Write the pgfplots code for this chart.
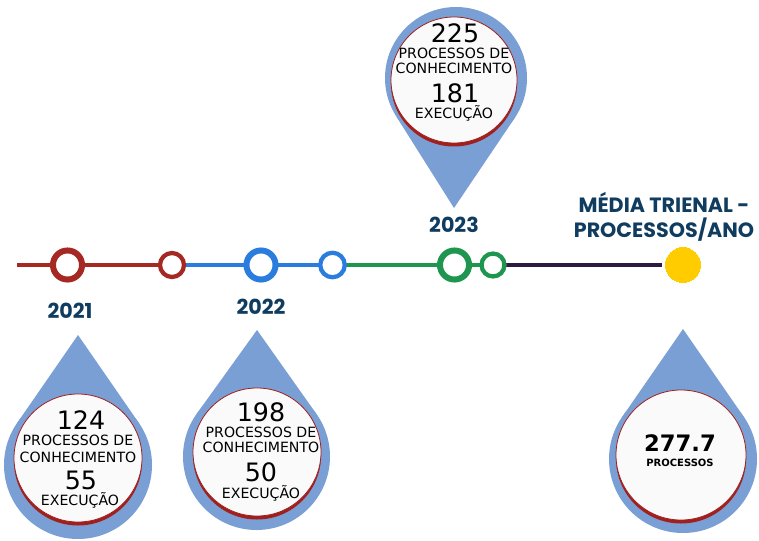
\documentclass[border=0pt]{standalone}
\usepackage{pgfplots}
\pgfplotsset{compat=1.18}
\usepackage{fontspec}
\setmainfont{DejaVu Sans}
\newfontfamily\pop{Poppins}
\newfontfamily\dv{DejaVu Sans}
\definecolor{tred}{RGB}{165,40,35}
\definecolor{tblue}{RGB}{42,125,220}
\definecolor{tgreen}{RGB}{30,150,80}
\definecolor{tdark}{RGB}{45,25,65}
\definecolor{tyellow}{RGB}{255,204,0}
\definecolor{navy}{RGB}{15,60,95}
\definecolor{drop}{RGB}{122,159,212}
\definecolor{rim}{RGB}{160,32,30}
\newcommand{\dropdown}[7]{% center x,y, r, tip x,y, tangent dx, tangent dy
  \fill[drop] (axis cs:#1,#2) circle[radius=#3];
  \fill[drop] (axis cs:#4,#5) -- (axis cs:{#1-#6},{#2+#7}) -- (axis cs:{#1+#6},{#2+#7}) -- cycle;}
\newcommand{\whitecirc}[3]{% center x,y, r
  \fill[rim] (axis cs:#1,{#2-3.5}) circle[radius=#3];
  \filldraw[fill=white!98!black, draw=rim, line width=0.6pt] (axis cs:#1,#2) circle[radius=#3];}
\begin{document}
\begin{tikzpicture}
\begin{axis}[
  x=0.75pt, y=0.75pt, xmin=0, xmax=759, ymin=0, ymax=540,
  hide axis, clip=false, scale only axis]
\path (axis cs:0,0) rectangle (axis cs:759,540);
% timeline
\addplot[tred, line width=2.6pt] coordinates {(17,275) (172,275)};
\addplot[tblue, line width=2.6pt] coordinates {(172,275) (332,275)};
\addplot[tgreen, line width=2.6pt] coordinates {(332,275) (492,275)};
\addplot[tdark, line width=2.8pt] coordinates {(492,275) (662,275)};
% rings
\addplot[tred, only marks, mark=*, mark size=10.9pt, mark options={fill=white, draw=tred, line width=4.5pt}] coordinates {(67.5,275)};
\addplot[tred, only marks, mark=*, mark size=9pt, mark options={fill=white, draw=tred, line width=3.2pt}] coordinates {(172,275)};
\addplot[tblue, only marks, mark=*, mark size=10.9pt, mark options={fill=white, draw=tblue, line width=4.5pt}] coordinates {(261,275)};
\addplot[tblue, only marks, mark=*, mark size=9.2pt, mark options={fill=white, draw=tblue, line width=3.2pt}] coordinates {(332.5,275)};
\addplot[tgreen, only marks, mark=*, mark size=10.9pt, mark options={fill=white, draw=tgreen, line width=4.5pt}] coordinates {(454.5,275)};
\addplot[tgreen, only marks, mark=*, mark size=8.6pt, mark options={fill=white, draw=tgreen, line width=3.2pt}] coordinates {(493,275)};
\addplot[tyellow, only marks, mark=*, mark size=13.1pt, mark options={fill=tyellow, draw=tyellow, line width=0pt}] coordinates {(683,275)};
% year labels
\def\lab{\pop\bfseries\fontsize{15.5}{17}\selectfont}
\node[text=navy, font=\lab] at (axis cs:70,229) {2021};
\node[text=navy, font=\lab] at (axis cs:261,233) {2022};
\node[text=navy, font=\lab] at (axis cs:454,315) {2023};
\node[text=navy, font=\lab] at (axis cs:664,338) {MÉDIA TRIENAL -};
\node[text=navy, font=\lab] at (axis cs:664,310) {PROCESSOS/ANO};
% drops
\dropdown{78}{75}{74}{78}{205}{60.8}{42.1}
\whitecirc{78}{82}{64}
\dropdown{256.5}{83.5}{73.5}{257}{210}{59.8}{42.7}
\whitecirc{257}{88}{64}
\dropdown{456}{462}{71}{454}{332}{59.5}{-38.8}
\whitecirc{454}{460}{63}
\dropdown{683}{81}{74}{683}{211}{60.8}{42.1}
\whitecirc{681}{85}{65}
% drop texts
\def\big{\dv\fontsize{19}{20}\selectfont}
\def\sm{\dv\fontsize{10.6}{12}\selectfont}
\node[font=\big] at (axis cs:81,120) {124};
\node[font=\sm] at (axis cs:78,100) {PROCESSOS DE};
\node[font=\sm] at (axis cs:78,83) {CONHECIMENTO};
\node[font=\big] at (axis cs:81,60) {55};
\node[font=\sm] at (axis cs:80,40) {EXECUÇÃO};
\node[font=\big] at (axis cs:261,128) {198};
\node[font=\sm] at (axis cs:261,108) {PROCESSOS DE};
\node[font=\sm] at (axis cs:261,93) {CONHECIMENTO};
\node[font=\big] at (axis cs:261,68) {50};
\node[font=\sm] at (axis cs:261,47) {EXECUÇÃO};
\node[font=\big] at (axis cs:455,507) {225};
\node[font=\sm] at (axis cs:454,487) {PROCESSOS DE};
\node[font=\sm] at (axis cs:454,472) {CONHECIMENTO};
\node[font=\big] at (axis cs:455,447) {181};
\node[font=\sm] at (axis cs:454,427) {EXECUÇÃO};
\node[font={\dv\bfseries\fontsize{17}{18}\selectfont}] at (axis cs:680,97) {277.7};
\node[font={\dv\bfseries\fontsize{7.5}{9}\selectfont}] at (axis cs:680,77) {PROCESSOS};
\end{axis}
\end{tikzpicture}
\end{document}
